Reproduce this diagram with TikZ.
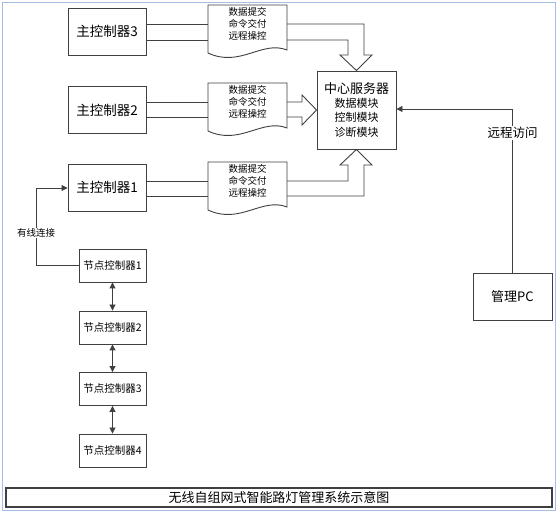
\documentclass[tikz,border=0pt]{standalone}
\usepackage{fontspec}
\setmainfont{Noto Sans CJK SC}
\usetikzlibrary{arrows.meta,calc}
\definecolor{ln}{HTML}{404040}
\definecolor{frame}{HTML}{A3BFE3}
\tikzset{
  box/.style={draw=ln,line width=0.9pt,fill=white,inner sep=0pt,align=center},
  mainbox/.style={box,minimum width=78pt,minimum height=47pt,font=\fontsize{13.5}{15}\selectfont},
  nodebox/.style={box,minimum width=67pt,minimum height=33pt,font=\fontsize{10.5}{12}\selectfont},
  doctext/.style={align=center,inner sep=0pt,font=\fontsize{9.5}{12}\selectfont},
  wire/.style={draw=ln,line width=0.9pt},
  tip/.style={-{Triangle[length=6pt,width=6pt]}},
  dtip/.style={{Triangle[length=6pt,width=6pt]}-{Triangle[length=6pt,width=6pt]}},
  lab/.style={fill=white,inner sep=1pt}
}
\begin{document}
\begin{tikzpicture}[x=1pt,y=-1pt]
\useasboundingbox (0,0) rectangle (558,513);
\fill[white] (0,0) rectangle (558,513);
\draw[frame,line width=1.6pt] (2.5,2.5) rectangle (555.5,510.5);

% main controllers
\node[mainbox] (m3) at (107,31.5) {主控制器3};
\node[mainbox] (m2) at (107,110) {主控制器2};
\node[mainbox] (m1) at (107,187.5) {主控制器1};

% lines from controllers to documents
\foreach \n/\a/\b in {m3/24/40, m2/102/117, m1/181/196}{
  \draw[wire] (\n.east |- 0,\a) -- (208,\a);
  \draw[wire] (\n.east |- 0,\b) -- (208,\b);
}

% documents
\foreach \t/\nm in {5/d3, 83/d2, 162/d1}{
  \draw[wire,fill=white] (208,\t) -- (287,\t) -- (287,\t+45)
     .. controls (262,\t+35) and (240,\t+63) .. (208,\t+48) -- cycle;
  \node[doctext] (\nm) at (247.5,\t+19) {数据提交\\命令交付\\远程操控};
}

% central server
\node[box,minimum width=79pt,minimum height=78pt] (srv) at (356.5,110) {};
\node[inner sep=0pt,font=\fontsize{13}{15}\selectfont] (srvt) at (356.5,89) {中心服务器};
\node[doctext,font=\fontsize{11}{14.5}\selectfont] (srvm) at (356.5,117.5) {数据模块\\控制模块\\诊断模块};

% block arrows
\draw[wire,line join=miter] (287,24) -- (364,24) -- (364,55) -- (372,55) -- (srv.north) -- (340,55) -- (348,55) -- (348,40) -- (287,40);
\draw[wire,line join=miter] (287,102) -- (302,102) -- (302,95) -- (srv.west) -- (302,125) -- (302,117) -- (287,117);
\draw[wire,line join=miter] (287,196) -- (364,196) -- (364,165) -- (372,165) -- (srv.south) -- (340,165) -- (348,165) -- (348,181) -- (287,181);

% management PC
\node[box,minimum width=79pt,minimum height=47pt,font=\fontsize{13}{15}\selectfont] (pc) at (512.5,296.5) {管理PC};
\coordinate (rc) at (512.5,109);
\draw[wire,tip] (pc.north) -- (rc) -- (srv.east |- rc);
\node[lab,font=\fontsize{12.5}{14}\selectfont] (ra) at (512.5,133) {远程访问};

% node controllers
\node[nodebox] (n1) at (112.5,265.5) {节点控制器1};
\node[nodebox] (n2) at (112.5,327.5) {节点控制器2};
\node[nodebox] (n3) at (112.5,389) {节点控制器3};
\node[nodebox] (n4) at (112.5,450.5) {节点控制器4};
\draw[wire,dtip] (n1) -- (n2);
\draw[wire,dtip] (n2) -- (n3);
\draw[wire,dtip] (n3) -- (n4);

% wired connection
\coordinate (wc) at (36,188);
\draw[wire,tip] (n1.west) -| (wc) -- (m1.west |- wc);
\node[lab,font=\fontsize{9.5}{11}\selectfont] (wl) at (36,233) {有线连接};

% title
\node[draw=ln,line width=1.1pt,minimum width=546pt,minimum height=19pt,inner sep=0pt,font=\fontsize{13}{15}\selectfont] (title) at (279,497.5) {无线自组网式智能路灯管理系统示意图};
\end{tikzpicture}
\end{document}
